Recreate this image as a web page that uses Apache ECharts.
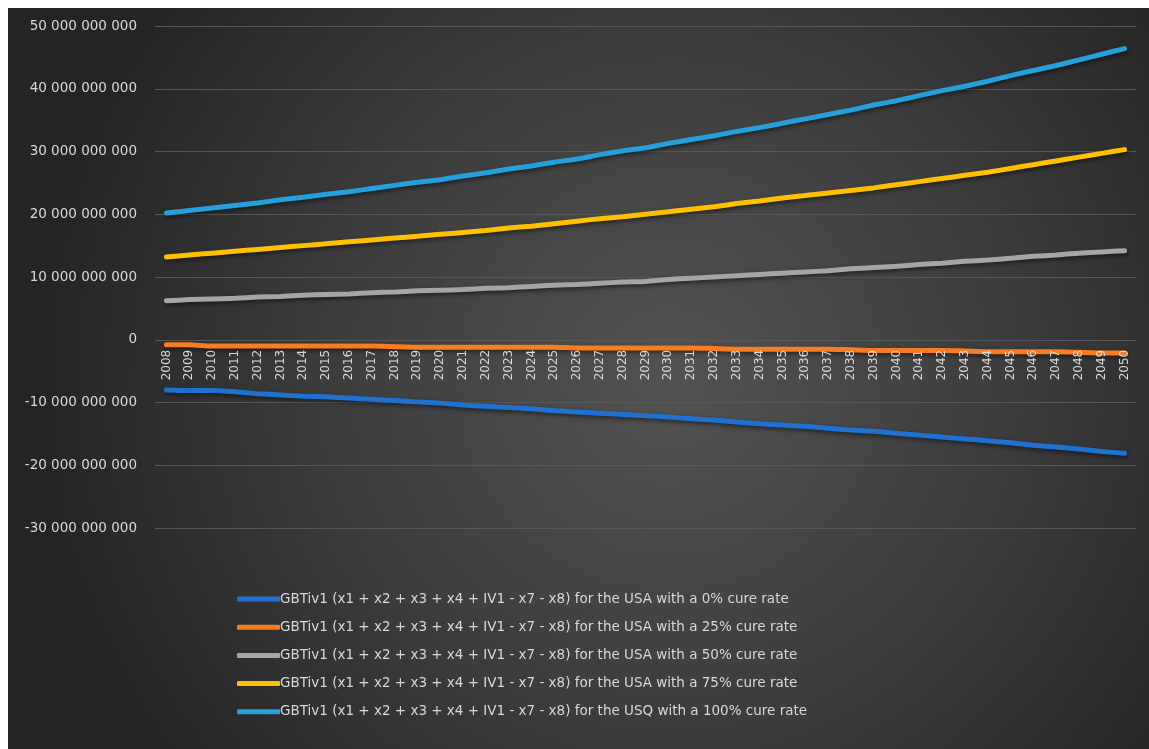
<!DOCTYPE html>
<html>
<head>
<meta charset="utf-8">
<script src="https://cdn.jsdelivr.net/npm/echarts@6/dist/echarts.min.js"></script>
<style>
html,body{margin:0;padding:0;background:#ffffff;}
#chart{position:absolute;left:8px;top:8px;width:1141px;height:741px;}
</style>
</head>
<body>
<div id="chart"></div>
<script>
const years = ['2008','2009','2010','2011','2012','2013','2014','2015','2016','2017','2018','2019','2020','2021','2022','2023','2024','2025','2026','2027','2028','2029','2030','2031','2032','2033','2034','2035','2036','2037','2038','2039','2040','2041','2042','2043','2044','2045','2046','2047','2048','2049','2050'];

const seriesNames = [
  'GBTiv1 (x1 + x2 + x3 + x4 + IV1 - x7 - x8) for the USA with a 0% cure rate',
  'GBTiv1 (x1 + x2 + x3 + x4 + IV1 - x7 - x8) for the USA with a 25% cure rate',
  'GBTiv1 (x1 + x2 + x3 + x4 + IV1 - x7 - x8) for the USA with a 50% cure rate',
  'GBTiv1 (x1 + x2 + x3 + x4 + IV1 - x7 - x8) for the USA with a 75% cure rate',
  'GBTiv1 (x1 + x2 + x3 + x4 + IV1 - x7 - x8) for the USQ with a 100% cure rate'
];

// values in billions
const cure0 = [-8.0,-8.1,-8.1,-8.3,-8.6,-8.8,-9.0,-9.1,-9.3,-9.5,-9.7,-9.9,-10.1,-10.4,-10.6,-10.8,-11.0,-11.3,-11.5,-11.7,-11.9,-12.1,-12.3,-12.6,-12.8,-13.1,-13.4,-13.6,-13.8,-14.1,-14.4,-14.6,-14.9,-15.2,-15.5,-15.8,-16.1,-16.4,-16.8,-17.1,-17.4,-17.8,-18.1];
const cure25 = [-0.8,-0.8,-1.0,-1.0,-1.0,-1.0,-1.0,-1.0,-1.0,-1.0,-1.1,-1.2,-1.2,-1.2,-1.2,-1.2,-1.2,-1.2,-1.3,-1.3,-1.3,-1.3,-1.3,-1.3,-1.4,-1.5,-1.5,-1.5,-1.5,-1.5,-1.6,-1.7,-1.7,-1.7,-1.7,-1.8,-1.9,-1.9,-1.9,-1.9,-2.0,-2.1,-2.1];
const cure50 = [6.2,6.4,6.5,6.6,6.8,6.9,7.1,7.2,7.3,7.5,7.6,7.8,7.9,8.0,8.2,8.3,8.5,8.7,8.8,9.0,9.2,9.3,9.6,9.8,10.0,10.2,10.4,10.6,10.8,11.0,11.3,11.5,11.7,12.0,12.2,12.5,12.7,13.0,13.3,13.5,13.8,14.0,14.2];
const cure75 = [13.2,13.5,13.8,14.1,14.4,14.7,15.0,15.3,15.6,15.9,16.2,16.5,16.8,17.1,17.4,17.8,18.1,18.5,18.9,19.3,19.6,20.0,20.4,20.8,21.2,21.7,22.1,22.6,23.0,23.4,23.8,24.2,24.7,25.2,25.7,26.2,26.7,27.3,27.9,28.5,29.1,29.7,30.3];
const cure100 = [20.2,20.6,21.0,21.4,21.8,22.3,22.7,23.2,23.6,24.1,24.6,25.1,25.5,26.1,26.6,27.2,27.7,28.3,28.8,29.5,30.1,30.6,31.3,31.9,32.5,33.2,33.8,34.5,35.2,35.9,36.6,37.4,38.1,38.9,39.7,40.4,41.2,42.1,42.9,43.7,44.6,45.5,46.4];

const yMin = -30e9, yMax = 50e9, yStep = 10e9;
const colors = ['#2070D0','#F97B22','#A5A5A5','#FFC000','#26A0DA'];

const allData = [cure0, cure25, cure50, cure75, cure100];
const BILLION = 1e9;

function fmt(v){
  const s = Math.abs(Math.round(v)).toString().replace(/\B(?=(\d{3})+(?!\d))/g, ' ');
  return (v < 0 ? '-' : '') + s;
}

const gridTop = 18, gridHeight = 502;
// place the category axis at the value 0 of the value axis
const zeroOffset = -(0 - yMin) / (yMax - yMin) * gridHeight;

const chart = echarts.init(document.getElementById('chart'), null, {renderer:'canvas'});
const font = 'DejaVu Sans';
chart.setOption({
  backgroundColor: {
    type: 'radial', x: 0.58, y: 0.5, r: 0.85,
    colorStops: [{offset:0,color:'#525252'},{offset:0.55,color:'#3c3c3c'},{offset:1,color:'#242424'}]
  },
  color: colors,
  animation: false,
  grid: {left: 147, right: 13, top: gridTop, height: gridHeight, containLabel: false},
  legend: {
    orient: 'vertical', left: 224, top: 579, itemGap: 14.2,
    itemWidth: 43, itemHeight: 5, icon: 'roundRect',
    textStyle: {color:'#d9d9d9', fontSize: 13.5, fontFamily: font, padding:[0,0,0,-5]},
    data: seriesNames
  },
  xAxis: {
    type: 'category', data: years, boundaryGap: true, position: 'bottom', offset: zeroOffset,
    z: 5,
    axisLine: {show: false, onZero: false},
    axisTick: {show: false},
    axisLabel: {rotate: 90, interval: 0, color:'#d9d9d9', fontSize: 12, fontFamily: font, margin: 10}
  },
  yAxis: {
    type: 'value', min: yMin, max: yMax, interval: yStep,
    axisLine: {show:false}, axisTick: {show:false},
    splitLine: {lineStyle: {color:'#575757', width: 1}},
    axisLabel: {color:'#d9d9d9', fontSize: 13.5, fontFamily: font, margin: 18, formatter: fmt}
  },
  series: allData.map((d, i) => ({
    name: seriesNames[i], type: 'line', data: d.map(v => v * BILLION),
    symbol: 'none', smooth: 0.2,
    lineStyle: {width: 5, cap: 'round', join: 'round', color: colors[i],
      shadowColor: 'rgba(0,0,0,0.55)', shadowBlur: 4, shadowOffsetY: 2, shadowOffsetX: 1}
  }))
});
</script>
</body>
</html>
